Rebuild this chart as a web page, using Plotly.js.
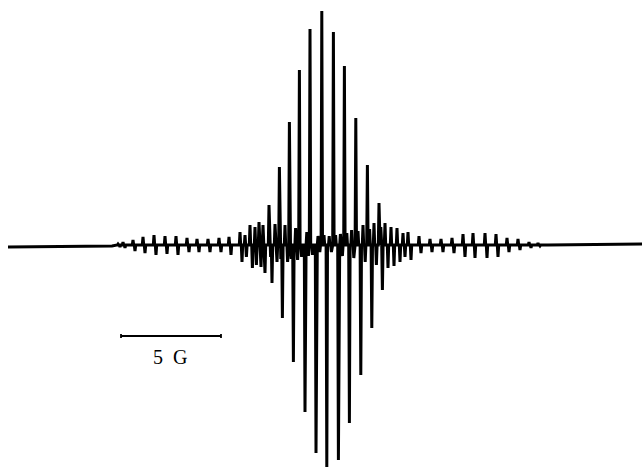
<!DOCTYPE html>
<html>
<head>
<meta charset="utf-8">
<script src="https://cdn.plot.ly/plotly-3.0.1.min.js"></script>
<style>
  html, body { margin: 0; padding: 0; background: #fff; }
  #chart { width: 642px; height: 468px; }
</style>
</head>
<body>
<div id="chart"></div>
<script>
// Extrema of the first-derivative EPR trace: field offset (G) and signal (arb. units)
const peakField = [
  // low-field outer lines
  -10.30, -10.20, -10.05, -9.95, -9.55, -9.45, -9.05, -8.95, -8.50, -8.40,
  -7.95, -7.85, -7.40, -7.30, -6.85, -6.75, -6.35, -6.25, -5.80, -5.70,
  -5.25, -5.15, -4.75, -4.65, -4.20, -4.10, -3.95, -3.88, -3.70, -3.58,
  -3.45, -3.38, -3.25, -3.15, -3.05, -2.95,
  // central strong lines with weaker satellites
  -2.75, -2.67, -2.60, -2.45, -2.35, -2.23, -2.16, -2.08, -1.95, -1.82,
  -1.73, -1.64, -1.53, -1.42, -1.32, -1.23, -1.12, -0.95, -0.86, -0.78,
  -0.70, -0.58, -0.40, -0.30, -0.21, -0.11, 0.00, 0.14, 0.26, 0.37,
  0.47, 0.58, 0.72, 0.82, 0.92, 1.02, 1.14, 1.27, 1.38, 1.49,
  1.59, 1.70, 1.84, 1.95, 2.06, 2.17, 2.28, 2.39, 2.50, 2.62,
  2.75, 2.84, 2.92,
  // high-field outer lines
  3.05, 3.20, 3.35, 3.50, 3.65, 3.80, 3.95, 4.05, 4.20, 4.35,
  4.75, 4.85, 5.30, 5.40, 5.85, 5.95, 6.40, 6.50, 6.95, 7.05,
  7.45, 7.55, 8.05, 8.15, 8.60, 8.70, 9.15, 9.25, 9.70, 9.80,
  10.25, 10.35, 10.70, 10.80
];
const peakSignal = [
  1, -2, 3, -3, 5, -6, 8, -8, 10, -10,
  9, -9, 9, -10, 7, -7, 6, -7, 6, -7,
  7, -7, 8, -10, 13, -17, 10, -12, 20, -23,
  18, -20, 23, -22, 20, -28,
  40, -12, -38, 21, -17, 78, -14, -73, 20, -17,
  123, -14, -117, 17, -15, 175, -12, -167, 13, -11,
  216, -10, -208, 9, -7, 234, 10, -222, 9, -7,
  213, 10, -215, 11, -11, 179, 12, -178, 15, -13,
  127, 14, -130, 20, -17, 80, 16, -83, 22, -20,
  42, 18, -45,
  22, -23, 18, -21, 17, -17, 12, -12, 13, -15,
  9, -8, 6, -7, 6, -7, 7, -8, 11, -12,
  12, -13, 12, -13, 11, -12, 7, -7, 6, -5,
  3, -3, 2, -1
];
// Baseline of the recording (field G, signal)
const baseField = [-15.80, -10.60, 11.20, 15.90];
const baseSignal = [-2, -1, 0, 1];

// Scale bar
const scaleBarStartG = -10.15;
const scaleBarLengthG = 5;
const scaleBarLabel = "5 &nbsp;G";

// Build the pen trace: each extremum is a narrow stroke out of the baseline
const spikeHalfWidth = 0.035;
const xs = [baseField[0], baseField[1]];
const ys = [baseSignal[0], baseSignal[1]];
for (let i = 0; i < peakField.length; i++) {
  xs.push(peakField[i] - spikeHalfWidth, peakField[i], peakField[i] + spikeHalfWidth);
  ys.push(0, peakSignal[i], 0);
}
xs.push(baseField[2], baseField[3]);
ys.push(baseSignal[2], baseSignal[3]);

const trace = {
  x: xs,
  y: ys,
  type: "scatter",
  mode: "lines",
  line: { color: "#000", width: 3 },
  hoverinfo: "skip"
};

const barY = -91;
const barEnd = scaleBarStartG + scaleBarLengthG;
const layout = {
  width: 642,
  height: 468,
  margin: { l: 0, r: 0, t: 0, b: 0 },
  paper_bgcolor: "#fff",
  plot_bgcolor: "#fff",
  showlegend: false,
  xaxis: { range: [-16.2, 15.9], visible: false, fixedrange: true },
  yaxis: { range: [-223, 245], visible: false, fixedrange: true },
  shapes: [
    { type: "line", xref: "x", yref: "y", x0: scaleBarStartG, x1: barEnd, y0: barY, y1: barY,
      line: { color: "#000", width: 1.8 } },
    { type: "line", xref: "x", yref: "y", x0: scaleBarStartG, x1: scaleBarStartG, y0: barY - 2, y1: barY + 2,
      line: { color: "#000", width: 1.8 } },
    { type: "line", xref: "x", yref: "y", x0: barEnd, x1: barEnd, y0: barY - 2, y1: barY + 2,
      line: { color: "#000", width: 1.8 } }
  ],
  annotations: [
    { x: scaleBarStartG + scaleBarLengthG * 0.5 - 0.05, y: -112, xref: "x", yref: "y",
      text: scaleBarLabel, showarrow: false,
      font: { family: "Liberation Serif, DejaVu Serif, serif", size: 20, color: "#000" } }
  ]
};

Plotly.newPlot("chart", [trace], layout, { displayModeBar: false, staticPlot: true });
</script>
</body>
</html>
